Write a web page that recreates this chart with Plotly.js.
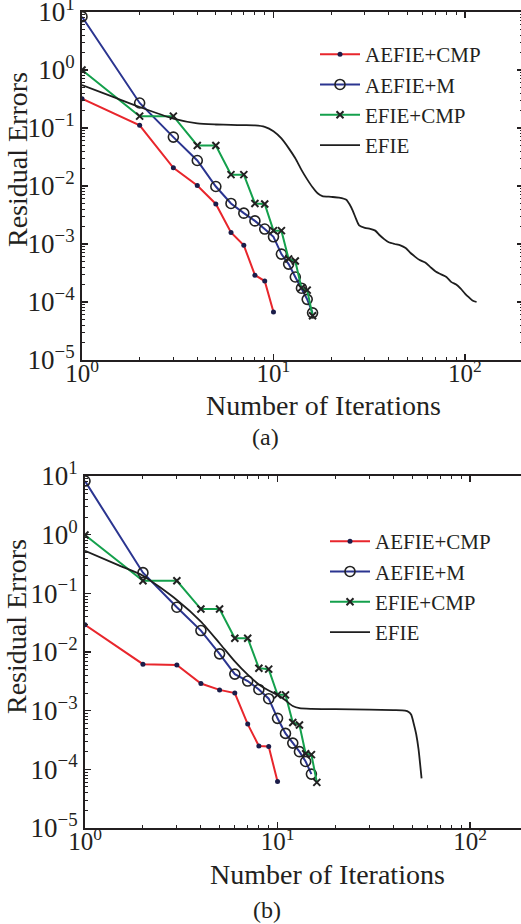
<!DOCTYPE html>
<html>
<head>
<meta charset="utf-8">
<script src="https://cdn.plot.ly/plotly-3.0.1.min.js"></script>
<style>
html,body{margin:0;padding:0;overflow:hidden;background:#fff;}
#chart{width:535px;height:924px;}
</style>
</head>
<body>
<div id="chart"></div>
<script>
// ---- data ----
const seriesNames = ["AEFIE+CMP", "AEFIE+M", "EFIE+CMP", "EFIE"];

// (a)
const iterA_aefieCmp = [1,2,3,4,5,6,7,8,9,10];
const resA_aefieCmp  = [0.32,0.111,0.0206,0.0102,0.0049,0.00158,0.00095,0.00029,0.00023,0.000067];
const iterA_aefieM   = [1,2,3,4,5,6,7,8,9,10,11,12,13,14,15,16];
const resA_aefieM    = [8.3,0.27,0.0697,0.0275,0.0098,0.0050,0.0034,0.0025,0.00181,0.00133,0.00067,0.00045,0.00027,0.000173,0.000111,0.000065];
const iterA_efieCmp  = [1,2,3,4,5,6,7,8,9,10,11,12,13,14,15,16];
const resA_efieCmp   = [1.0,0.16,0.16,0.05,0.05,0.0157,0.0157,0.0050,0.0049,0.0017,0.0017,0.00055,0.00051,0.000175,0.00016,0.000058];
const iterA_efie     = [1,1.5,2,3,4,5,6,7,8,9,10,11,12,13,14,15,16,17,18,20,22,24,25,26,27,28,30,32,34,36,38,40,43,46,49,52,55,58,62,66,70,75,80,85,90,95,100,105,110,115];
const resA_efie      = [0.55,0.33,0.23,0.145,0.12,0.115,0.113,0.112,0.111,0.105,0.088,0.066,0.045,0.030,0.019,0.013,0.0095,0.0075,0.0067,0.0065,0.0063,0.0058,0.0048,0.0037,0.0027,0.0021,0.0019,0.00182,0.0017,0.0014,0.0012,0.00107,0.0010,0.00095,0.00085,0.0007,0.0006,0.00053,0.00048,0.0004,0.00034,0.0003,0.00027,0.00022,0.0002,0.00017,0.00014,0.00012,0.000105,0.0001];

// (b)
const iterB_aefieCmp = [1,2,3,4,5,6,7,8,9,10];
const resB_aefieCmp  = [0.029,0.0062,0.0060,0.0029,0.00226,0.0020,0.00059,0.00025,0.000245,0.000062];
const iterB_aefieM   = [1,2,3,4,5,6,7,8,9,10,11,12,13,14,15];
const resB_aefieM    = [8.2,0.225,0.058,0.0232,0.0093,0.0042,0.0032,0.0023,0.0016,0.00074,0.00041,0.00028,0.0002,0.000136,0.000083];
const iterB_efieCmp  = [1,2,3,4,5,6,7,8,9,10,11,12,13,14,15,16];
const resB_efieCmp   = [0.99,0.164,0.164,0.054,0.054,0.0172,0.0172,0.0053,0.0051,0.00186,0.00186,0.00063,0.00057,0.000184,0.000178,0.00006];
const iterB_efie     = [1,1.5,2,3,4,5,6,7,8,9,10,11,12,13,15,20,30,40,46,48,49.5,51,52.5,54,56];
const resB_efie      = [0.53,0.30,0.20,0.077,0.033,0.0141,0.0069,0.0041,0.0028,0.0022,0.00186,0.0015,0.0012,0.0011,0.00107,0.00106,0.00104,0.00102,0.0010,0.00095,0.00085,0.0006,0.0004,0.00022,0.00007];

// tick labels
const xTickVals = [1,10,100];
const xTickText = ["10<sup>0</sup>","10<sup>1</sup>","10<sup>2</sup>"];
const yTickVals = [1e-5,1e-4,1e-3,1e-2,1e-1,1,10];
const yTickText = ["10<sup>\u22125</sup>","10<sup>\u22124</sup>","10<sup>\u22123</sup>","10<sup>\u22122</sup>","10<sup>\u22121</sup>","10<sup>0</sup>","10<sup>1</sup>"];

// ---- styling ----
const W = 535, H = 924;
const FONT = "Liberation Serif, Times New Roman, serif";
const INK = "#231f20";
const RED = "#e8262c", BLUE = "#2b3590", GREEN = "#14a04c", BLACK = "#1e1e1e";

function traces(xa, ya, leg, d) {
  return [
    {x: d[0], y: d[1], name: seriesNames[0], xaxis: xa, yaxis: ya, legend: leg, mode: "lines+markers",
     line: {color: RED, width: 2}, marker: {symbol: "circle", size: 5, color: "#1b1d4a"}},
    {x: d[2], y: d[3], name: seriesNames[1], xaxis: xa, yaxis: ya, legend: leg, mode: "lines+markers",
     line: {color: BLUE, width: 2}, marker: {symbol: "circle-open", size: 10, color: "#222", line: {width: 1.6, color: "#222"}}},
    {x: d[4], y: d[5], name: seriesNames[2], xaxis: xa, yaxis: ya, legend: leg, mode: "lines+markers",
     line: {color: GREEN, width: 2}, marker: {symbol: "x-thin", size: 7, color: "#222", line: {width: 2, color: "#222"}}},
    {x: d[6], y: d[7], name: seriesNames[3], xaxis: xa, yaxis: ya, legend: leg, mode: "lines",
     line: {color: BLACK, width: 1.8, shape: "spline", smoothing: 0.6}}
  ];
}

const data = [].concat(
  traces("x", "y", "legend", [iterA_aefieCmp,resA_aefieCmp,iterA_aefieM,resA_aefieM,iterA_efieCmp,resA_efieCmp,iterA_efie,resA_efie]),
  traces("x2", "y2", "legend2", [iterB_aefieCmp,resB_aefieCmp,iterB_aefieM,resB_aefieM,iterB_efieCmp,resB_efieCmp,iterB_efie,resB_efie])
);

function xAxis(dom, anchor) {
  return {domain: dom, anchor: anchor, type: "log", range: [0, Math.log10(200)],
    tickmode: "array", tickvals: xTickVals, ticktext: xTickText,
    ticks: "inside", ticklen: 6, tickwidth: 1.5, tickcolor: INK,
    minor: {ticks: "inside", ticklen: 3, tickwidth: 1, tickcolor: INK, dtick: "D1", showgrid: false},
    showline: true, linewidth: 2, linecolor: INK, mirror: "allticks",
    showgrid: false, zeroline: false, automargin: false,
    ticklabeloverflow: "allow", ticklabelstandoff: -10,
    tickfont: {family: FONT, size: 25, color: INK}};
}
function yAxis(dom, anchor) {
  return {domain: dom, anchor: anchor, type: "log", range: [-5, 1],
    tickmode: "array", tickvals: yTickVals, ticktext: yTickText,
    ticks: "inside", ticklen: 6, tickwidth: 1.5, tickcolor: INK,
    minor: {ticks: "inside", ticklen: 3, tickwidth: 1, tickcolor: INK, dtick: "D1", showgrid: false},
    showline: true, linewidth: 2, linecolor: INK, mirror: "allticks",
    showgrid: false, zeroline: false, automargin: false,
    ticklabeloverflow: "allow",
    tickfont: {family: FONT, size: 27, color: INK}};
}
function legendAt(px, py) {
  return {x: px / W, y: 1 - py / H, xanchor: "left", yanchor: "top",
    bgcolor: "rgba(0,0,0,0)", borderwidth: 0, itemwidth: 40,
    font: {family: FONT, size: 21, color: INK}, tracegroupgap: 0};
}
function ann(text, px, py, size, angle) {
  return {text: text, x: px / W, y: 1 - py / H, xref: "paper", yref: "paper",
    showarrow: false, textangle: angle || 0, xanchor: "center", yanchor: "middle",
    font: {family: FONT, size: size, color: INK}};
}

const layout = {
  width: W, height: H,
  margin: {l: 0, r: 0, t: 0, b: 0, pad: 0},
  paper_bgcolor: "#fff", plot_bgcolor: "#fff",
  showlegend: true,
  xaxis:  xAxis([82 / W, 522.6 / W], "y"),
  yaxis:  yAxis([1 - 360 / H, 1 - 12 / H], "x"),
  xaxis2: xAxis([85 / W, 528 / W], "y2"),
  yaxis2: yAxis([1 - 828 / H, 1 - 476 / H], "x2"),
  legend:  legendAt(315, 34),
  legend2: legendAt(325, 521),
  annotations: [
    ann("Residual Errors", 17, 160, 28, -90),
    ann("Number of Iterations", 323, 405, 28),
    ann("(a)", 265, 437, 24),
    ann("Residual Errors", 16, 627, 28, -90),
    ann("Number of Iterations", 327, 874, 28),
    ann("(b)", 267, 910, 24)
  ]
};

Plotly.newPlot("chart", data, layout, {staticPlot: true, displayModeBar: false});
</script>
</body>
</html>
